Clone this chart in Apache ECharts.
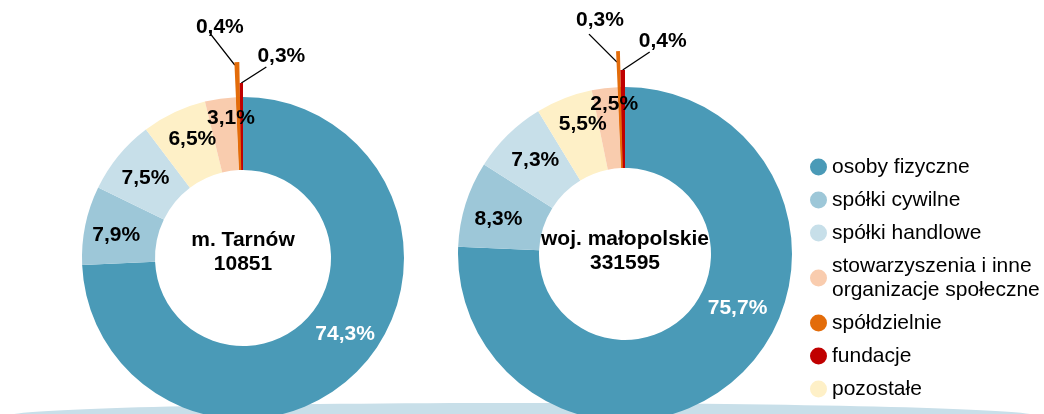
<!DOCTYPE html>
<html><head><meta charset="utf-8">
<script src="https://cdn.jsdelivr.net/npm/echarts@6/dist/echarts.min.js"></script>
<style>html,body{margin:0;padding:0;background:#fff}#c{width:1044px;height:414px}</style>
</head><body><div id="c"></div>
<script>
// ---- data ----
const categories = ['osoby fizyczne', 'spółki cywilne', 'spółki handlowe', 'pozostałe',
  'stowarzyszenia i inne organizacje społeczne', 'spółdzielnie', 'fundacje'];
const tarnowValues = [74.3, 7.9, 7.5, 6.5, 3.1, 0.4, 0.3];
const malopolskaValues = [75.7, 8.3, 7.3, 5.5, 2.5, 0.3, 0.4];
const regionNames = ['m. Tarnów', 'woj. małopolskie'];
const regionTotals = [10851, 331595];
const legendOrder = ['osoby fizyczne', 'spółki cywilne', 'spółki handlowe',
  'stowarzyszenia i inne organizacje społeczne', 'spółdzielnie', 'fundacje', 'pozostałe'];

// ---- styles ----
const FONT = '"Liberation Sans", Arial, sans-serif';
const colors = {
  'osoby fizyczne': '#4A9AB7',
  'spółki cywilne': '#9DC7D8',
  'spółki handlowe': '#C7DFE9',
  'pozostałe': '#FEF0C7',
  'stowarzyszenia i inne organizacje społeczne': '#F9CCAE',
  'spółdzielnie': '#E36C0A',
  'fundacje': '#C00000'
};
const fmt = v => v.toFixed(1).replace('.', ',') + '%';

const layouts = [
  { values: tarnowValues, center: [243, 258], inner: 88, outer: 161,
    textDy: -6,
    nudge: { 'osoby fizyczne': [10, -12], 'spółki cywilne': [-2, 3], 'spółki handlowe': [1, 1], 'pozostałe': [4, -4],
             'stowarzyszenia i inne organizacje społeczne': [6, -14] },
    ext: {
      'spółdzielnie': { r: 196, label: [-17, -35], line: [[-27, -29], [-2, 3]] },
      'fundacje': { r: 175, label: [40, -27], line: [[25, -16], [0, 0]] }
    } },
  { values: malopolskaValues, center: [625, 254], inner: 86, outer: 167,
    textDy: -3,
    nudge: { 'osoby fizyczne': [23, -39], 'spółki cywilne': [-3, 4], 'spółki handlowe': [1, -1],
             'pozostałe': [5, -9], 'stowarzyszenia i inne organizacje społeczne': [5, -21] },
    ext: {
      'spółdzielnie': { r: 203, label: [-18, -31], line: [[-29, -17], [-1, 11]] },
      'fundacje': { r: 184, label: [40, -29], line: [[27, -18], [0, 0]] }
    } }
];

const labelBase = { fontSize: 21, fontWeight: 'bold', fontFamily: FONT, color: '#000' };

const series = [];
const graphic = [
  { type: 'ellipse', shape: { cx: 522, cy: 416, rx: 514, ry: 13 },
    style: { fill: '#C8DFE9' }, z: 0, silent: true }
];

layouts.forEach((L, ci) => {
  series.push({
    type: 'pie', center: L.center, radius: [L.inner, L.outer],
    startAngle: 90, clockwise: true, avoidLabelOverlap: false, silent: true, z: 4,
    label: Object.assign({ show: true, position: 'inside', formatter: p => fmt(p.value) }, labelBase),
    labelLine: { show: false },
    labelLayout: { hideOverlap: false, moveOverlap: null },
    emphasis: { disabled: true },
    data: categories.map((name, i) => ({
      name, value: L.values[i],
      itemStyle: { color: colors[name] },
      label: L.ext[name] ? { show: false } :
        { offset: L.nudge[name] || [0, 0], color: name === 'osoby fizyczne' ? '#fff' : '#000' }
    }))
  });
  Object.keys(L.ext).forEach(target => {
    const E = L.ext[target];
    const ti = categories.indexOf(target);
    series.push({
      type: 'pie', center: L.center, radius: [L.inner, E.r],
      startAngle: 90, clockwise: true, avoidLabelOverlap: false, silent: true, z: 3,
      emphasis: { disabled: true },
      label: Object.assign({ show: false, position: 'outside', formatter: p => fmt(p.value) }, labelBase),
      labelLine: { show: false },
      data: categories.map((name, i) => ({
        name, value: L.values[i],
        itemStyle: { color: name === target ? colors[name] : 'rgba(0,0,0,0)' },
        label: { show: name === target },
        labelLine: name === target ?
          { show: true, length: 5, length2: 5, lineStyle: { color: '#000', width: 1.4 } } : { show: false }
      })),
      labelLayout: params => {
        if (params.dataIndex !== ti || !params.labelLinePoints) return { hideOverlap: false };
        const tip = params.labelLinePoints[0];
        const a = [tip[0] + E.line[0][0], tip[1] + E.line[0][1]];
        const b = [tip[0] + E.line[1][0], tip[1] + E.line[1][1]];
        return {
          x: tip[0] + E.label[0], y: tip[1] + E.label[1],
          align: 'center', verticalAlign: 'middle', hideOverlap: false,
          labelLinePoints: [a, [(a[0] + b[0]) / 2, (a[1] + b[1]) / 2], b]
        };
      }
    });
  });
  graphic.push({
    type: 'text', x: L.center[0], y: L.center[1] + L.textDy, z: 10, silent: true,
    style: {
      text: regionNames[ci] + '\n' + regionTotals[ci],
      fontSize: 21, fontWeight: 'bold', fontFamily: FONT, fill: '#000',
      align: 'center', verticalAlign: 'middle', textAlign: 'center', textVerticalAlign: 'middle',
      lineHeight: 24
    }
  });
});

const chart = echarts.init(document.getElementById('c'), null, { renderer: 'canvas' });
chart.setOption({
  animation: false,
  backgroundColor: '#fff',
  legend: {
    data: legendOrder, orient: 'vertical', left: 805, top: 150,
    icon: 'circle', itemWidth: 17, itemHeight: 17, itemGap: 9,
    selectedMode: false,
    formatter: n => n.replace(' organizacje', '\norganizacje'),
    textStyle: { fontSize: 21, lineHeight: 24, color: '#000', fontFamily: FONT }
  },
  graphic,
  series
});
</script>
</body></html>
